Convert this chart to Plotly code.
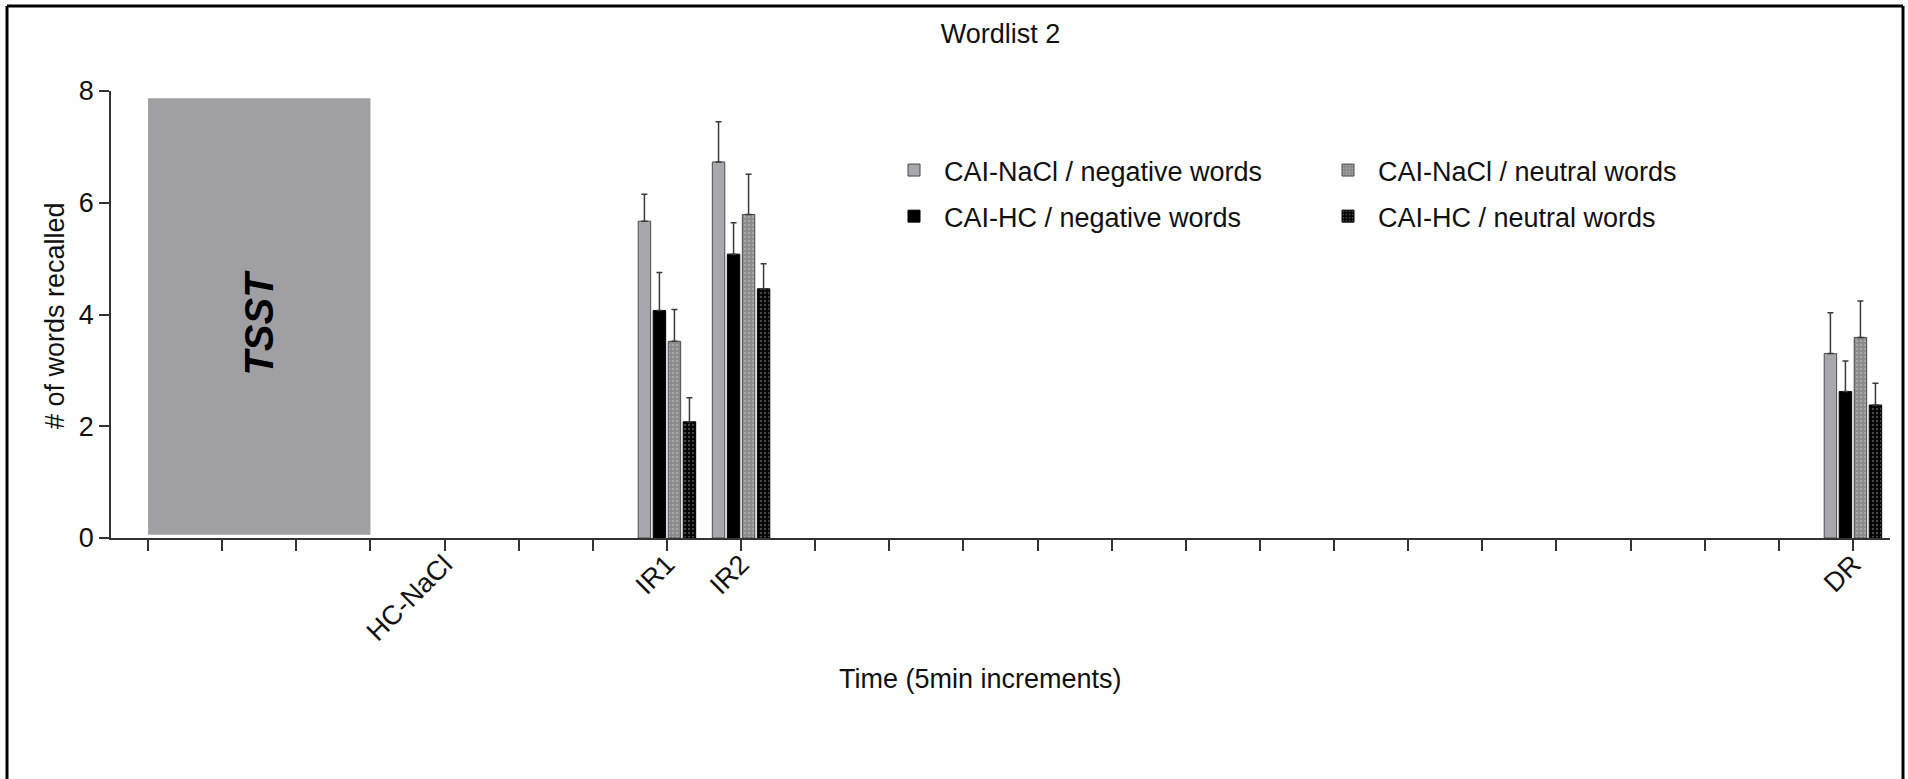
import plotly.graph_objects as go

# ---------------- data ----------------
timepoint_labels = ["IR1", "IR2", "DR"]
timepoint_pos = [7, 8, 23]            # position on the 5-min increment axis

nacl_neg = [5.67, 6.73, 3.30]
nacl_neg_sem = [0.48, 0.72, 0.73]
hc_neg = [4.07, 5.08, 2.62]
hc_neg_sem = [0.68, 0.56, 0.55]
nacl_neu = [3.52, 5.79, 3.59]
nacl_neu_sem = [0.57, 0.72, 0.65]
hc_neu = [2.08, 4.46, 2.38]
hc_neu_sem = [0.43, 0.45, 0.39]

tick_positions = list(range(24))
tick_named = {4: "HC-NaCl", 7: "IR1", 8: "IR2", 23: "DR"}
tick_text = [tick_named.get(p, "") for p in tick_positions]

tsst_x = [0, 3]
tsst_y = [0.06, 7.87]

# ---------------- layout constants ----------------
W, H = 1908, 779
ML, MR, MT, MB = 111, 18, 91, 241
PW = W - ML - MR
PH = H - MT - MB


def px_x(px):
    return (px - ML) / PW


def px_y(py):
    return (H - MB - py) / PH


FONT = "Liberation Sans, Arial, Helvetica, sans-serif"
FS = 27
AX = "#333333"

fig = go.Figure()

err_style = dict(type="data", symmetric=False, color="#3a3a3a", thickness=1.5, width=3)


def add_bar(name, y, sem, color, line_color, legend, pattern=None):
    fig.add_trace(go.Bar(
        name=name,
        x=timepoint_pos,
        y=y,
        marker=dict(color=color, line=dict(color=line_color, width=1),
                    pattern=pattern if pattern else dict(shape="")),
        error_y=dict(array=sem, arrayminus=[0] * len(sem), **err_style),
        legend=legend,
        legendgroup=name,
    ))


add_bar("CAI-NaCl / negative words", nacl_neg, nacl_neg_sem, "#a7a7ae", "#4a4a4a", "legend")
add_bar("CAI-HC / negative words", hc_neg, hc_neg_sem, "#000000", "#000000", "legend")
add_bar("CAI-NaCl / neutral words", nacl_neu, nacl_neu_sem, "#8a8a8e", "#4a4a4a", "legend2",
        pattern=dict(shape=".", fgcolor="#c4c4c8", bgcolor="#8a8a8e", size=4, solidity=0.3))
add_bar("CAI-HC / neutral words", hc_neu, hc_neu_sem, "#000000", "#000000", "legend2",
        pattern=dict(shape=".", fgcolor="#8c8c8c", bgcolor="#000000", size=4, solidity=0.3))

# TSST block
fig.add_shape(type="rect", xref="x", yref="y", x0=tsst_x[0], x1=tsst_x[1],
              y0=tsst_y[0], y1=tsst_y[1], fillcolor="#a0a0a4", line=dict(width=0),
              layer="below")
fig.add_annotation(x=(tsst_x[0] + tsst_x[1]) / 2, y=3.86, xref="x", yref="y",
                   text="<b><i>TSST</i></b>", textangle=-90, showarrow=False,
                   xanchor="center", yanchor="middle",
                   font=dict(family=FONT, size=40, color="#000000"))

# axis titles as annotations
fig.add_annotation(x=px_x(55), y=px_y(315), xref="paper", yref="paper",
                   xanchor="center", yanchor="middle",
                   text="# of words recalled", textangle=-90, showarrow=False,
                   font=dict(family=FONT, size=FS, color="#111111"))
fig.add_annotation(x=px_x(980), y=px_y(679), xref="paper", yref="paper",
                   xanchor="center", yanchor="middle",
                   text="Time (5min increments)", showarrow=False,
                   font=dict(family=FONT, size=FS, color="#111111"))

# outer frame
fl, ft, fr, fb = 7, 6, 1903, 800
frame = dict(color="#000000", width=3)
fig.add_shape(type="line", xref="paper", yref="paper", x0=px_x(fl), x1=px_x(fl), y0=px_y(ft), y1=px_y(fb), line=frame)
fig.add_shape(type="line", xref="paper", yref="paper", x0=px_x(fl), x1=px_x(fr), y0=px_y(ft), y1=px_y(ft), line=frame)
fig.add_shape(type="line", xref="paper", yref="paper", x0=px_x(fr), x1=px_x(fr), y0=px_y(ft), y1=px_y(fb), line=frame)

legend_common = dict(
    xanchor="left", yanchor="top", orientation="v",
    font=dict(family=FONT, size=FS, color="#111111"),
    bgcolor="rgba(0,0,0,0)", borderwidth=0, tracegroupgap=8, itemwidth=50,
    itemclick=False, itemdoubleclick=False,
)

fig.update_layout(
    width=W, height=H,
    margin=dict(l=ML, r=MR, t=MT, b=MB, autoexpand=False),
    paper_bgcolor="white", plot_bgcolor="white",
    font=dict(family=FONT, size=FS, color="#111111"),
    title=dict(text="Wordlist 2", x=0.5 * (ML + W - MR) / W, xanchor="center",
               y=1 - 34 / H, yanchor="middle", yref="container",
               font=dict(family=FONT, size=FS, color="#111111")),
    barmode="group", bargap=0.19, bargroupgap=0.17,
    showlegend=True,
    legend=dict(x=px_x(884), y=px_y(146), **legend_common),
    legend2=dict(x=px_x(1318), y=px_y(146), **legend_common),
    xaxis=dict(range=[-0.5, 23.5], tickmode="array", tickvals=tick_positions, ticktext=tick_text,
               tickangle=-45, ticks="outside", ticklen=11, tickwidth=1.5, tickcolor=AX,
               ticklabelstandoff=-13,
               showline=True, linecolor=AX, linewidth=1.5, showgrid=False, zeroline=False,
               tickfont=dict(family=FONT, size=FS, color="#111111"), fixedrange=True),
    yaxis=dict(range=[0, 8], dtick=2, tick0=0, ticks="outside", ticklen=10, tickwidth=1.5,
               tickcolor=AX, showline=True, linecolor=AX, linewidth=1.5, showgrid=False,
               zeroline=False, tickfont=dict(family=FONT, size=FS, color="#111111"),
               fixedrange=True),
)

fig.write_html("out.html", config={"displayModeBar": False},
               post_script="document.body.style.margin='0';")
